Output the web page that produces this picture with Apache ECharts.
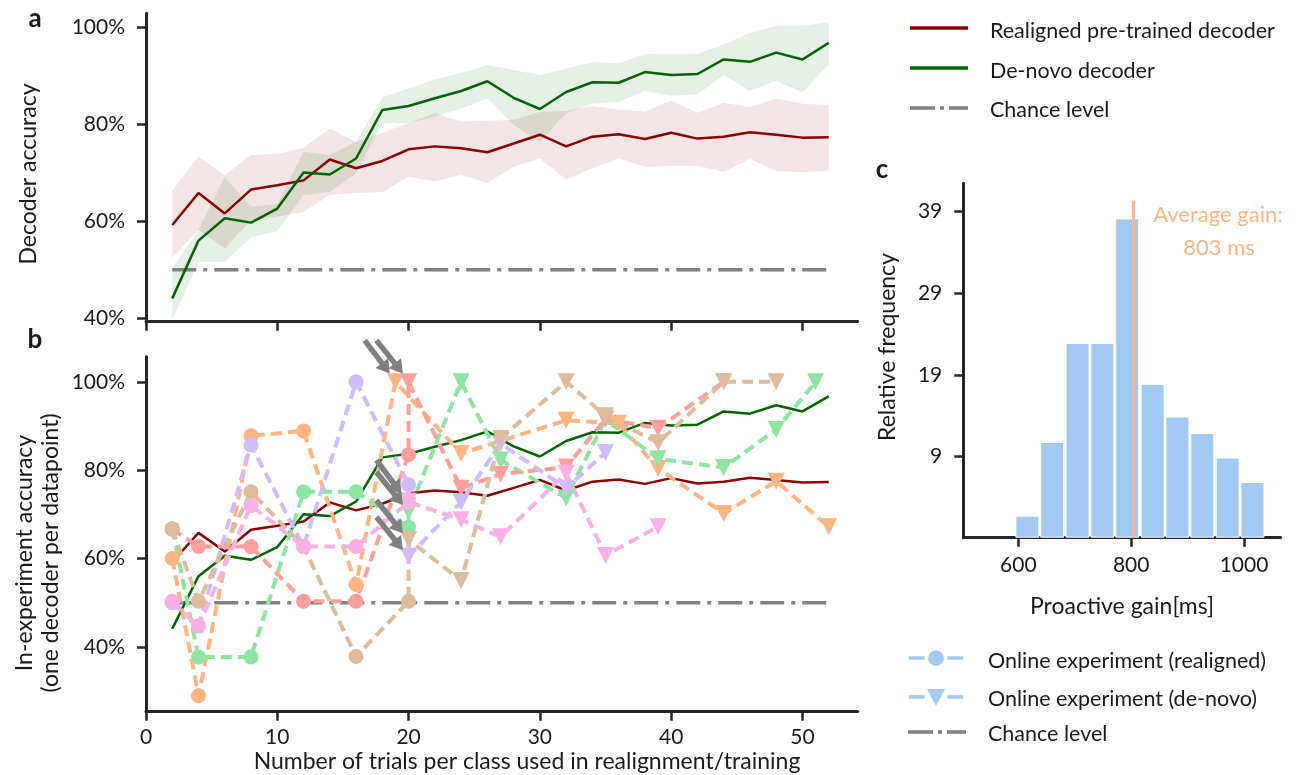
<!DOCTYPE html>
<html>
<head>
<meta charset="utf-8">
<title>Decoder accuracy vs. trials</title>
<script src="https://cdn.jsdelivr.net/npm/echarts@6/dist/echarts.min.js"></script>
<style>
html, body { margin: 0; padding: 0; background: #fff; }
#chart { width: 1296px; height: 775px; }
</style>
</head>
<body>
<div id="chart"></div>
<script>
// number of trials per class (x of the averaged curves)
const trials = [2, 4, 6, 8, 10, 12, 14, 16, 18, 20, 22, 24, 26, 28, 30, 32, 34, 36, 38, 40, 42, 44, 46, 48, 50, 52];

// realigned pre-trained decoder: mean and shaded band (%)
const realignedMean  = [59.2, 65.8, 61.6, 66.5, 67.4, 68.4, 72.7, 70.9, 72.4, 74.8, 75.4, 75.0, 74.2, 76.0, 77.8, 75.4, 77.4, 77.9, 76.9, 78.2, 77.0, 77.4, 78.3, 77.8, 77.2, 77.3];
const realignedUpper = [66.3, 73.3, 69.5, 73.6, 73.9, 75.1, 79.1, 76.3, 78.2, 80.2, 82.2, 80.5, 80.7, 80.9, 82.5, 82.7, 83.7, 83.0, 82.6, 84.8, 82.3, 84.4, 83.5, 85.2, 84.2, 83.9];
const realignedLower = [52.5, 58.2, 54.4, 60.2, 60.9, 61.9, 65.4, 65.8, 66.0, 69.1, 68.2, 69.5, 67.9, 71.2, 72.9, 68.6, 70.9, 72.9, 71.2, 71.4, 71.4, 70.2, 72.8, 70.4, 70.0, 70.5];

// de-novo decoder: mean and shaded band (%)
const denovoMean  = [44.1, 56.0, 60.6, 59.7, 62.6, 70.0, 69.6, 72.9, 82.9, 83.7, 85.3, 86.8, 88.8, 85.4, 83.1, 86.6, 88.6, 88.5, 90.7, 90.1, 90.3, 93.3, 92.8, 94.7, 93.3, 96.7];
const denovoUpper = [50.3, 58.2, 69.1, 63.0, 63.5, 74.3, 73.6, 76.3, 85.5, 87.3, 89.2, 90.5, 92.1, 91.1, 90.1, 91.4, 92.7, 92.5, 94.4, 94.4, 94.4, 96.4, 98.8, 100.2, 100.3, 100.9];
const denovoLower = [39.6, 51.6, 51.6, 56.7, 58.0, 65.4, 66.0, 69.8, 80.2, 80.2, 81.5, 83.2, 85.3, 79.8, 76.3, 82.2, 84.2, 84.6, 86.8, 85.8, 86.1, 90.1, 86.8, 88.9, 86.5, 92.3];

const chanceLevel = [[2, 50], [52, 50]];

// online experiments: [trials, accuracy %], realigned (circles) then de-novo (triangles)
const orangeRealigned = [[2, 60], [4, 28.9], [8, 87.8], [12, 88.9], [16, 54.1]];
const orangeDenovo    = [[19, 100], [24, 83.8], [32, 91.3], [36, 90.6], [39, 80.4], [44, 70.2], [48, 77.5], [52, 67.2]];
const greenRealigned  = [[2, 66.7], [4, 37.7], [8, 37.7], [12, 75.1], [16, 75.1], [20, 67.1]];
const greenDenovo     = [[20, 70.7], [24, 100], [27, 82.3], [32, 73.7], [35, 91.5], [39, 82.6], [44, 80.6], [48, 89.2], [51, 100]];
const redRealigned    = [[2, 66.7], [4, 62.7], [8, 62.7], [12, 50.3], [16, 50.3], [20, 83.5]];
const redDenovo       = [[20, 100], [24, 75.9], [27, 79.1], [32, 80.7], [35, 91.6], [39, 89.5], [44, 100]];
const purpleRealigned = [[2, 50], [4, 44.7], [8, 85.7], [12, 62.7], [16, 100], [20, 76.7]];
const purpleDenovo    = [[20, 60.5], [24, 72.8], [27, 86.0], [32, 75.9], [35, 84.0]];
const brownRealigned  = [[2, 66.7], [4, 50.3], [8, 75.1], [12, 62.7], [16, 37.8], [20, 50.3]];
const brownDenovo     = [[20, 64.3], [24, 55.0], [27, 87.2], [32, 100], [35, 92.3], [39, 86.2], [44, 100], [48, 100]];
const pinkRealigned   = [[2, 50.3], [4, 44.7], [8, 72.0], [12, 62.7], [16, 62.7], [20, 72.8]];
const pinkDenovo      = [[20, 73.0], [24, 68.8], [27, 64.9], [32, 79.3], [35, 60.7], [39, 67.2]];

// arrows marking the switch to de-novo decoding, [from, to] in panel b coordinates
const arrowTails = [[16.66, 109.4], [17.55, 109.4], [17.55, 82.3], [17.55, 79.6], [17.55, 73.2], [17.55, 69.4]];
const arrowTips  = [[18.56, 101.9], [19.57, 101.9], [19.45, 74.7], [19.57, 72.1], [19.57, 65.7], [19.57, 61.9]];

// panel c histogram
const gainBins = [616, 660, 705, 749, 793, 838, 882, 926, 971, 1015];
const gainFreq = [2.7, 11.7, 23.8, 23.8, 39.0, 18.8, 14.8, 12.8, 9.8, 6.8];
const averageGain = 803;

// tick values / labels
const trialTicks = [0, 10, 20, 30, 40, 50];
const accTicks = [40, 60, 80, 100];
const gainTicks = [600, 800, 1000];
const freqTickValues = [9.9, 19.9, 29.9, 39.9];
const freqTickLabels = ['9', '19', '29', '39'];

const FONT = 'Lato, "Open Sans", sans-serif';
const INK = '#1a1a1a';
const AXIS = '#262626';
const GRAY = '#808080';
const DASHDOT = [24, 7, 4, 7];
const DARKRED = '#8b0000';
const DARKGREEN = '#006400';
const PASTEL_BLUE = '#a1c9f4';
const PASTEL_ORANGE = '#ffb482';

const zip = (xs, ys) => xs.map((x, i) => [x, ys[i]]);

function axis(gridIndex, min, max, ticks, opts) {
    opts = opts || {};
    return {
        type: 'value',
        gridIndex: gridIndex,
        min: min,
        max: max,
        axisLine: { show: true, onZero: false, lineStyle: { color: AXIS, width: 3 } },
        axisTick: { show: true, length: 9, customValues: ticks, lineStyle: { color: AXIS, width: 2.5 } },
        axisLabel: {
            show: opts.labels !== false,
            customValues: ticks,
            formatter: opts.formatter || (v => String(v)),
            margin: opts.margin || 18,
            color: INK,
            fontFamily: FONT,
            fontSize: 21
        },
        splitLine: { show: false }
    };
}

function plainLine(idx, data, color, width, type) {
    return {
        type: 'line',
        xAxisIndex: idx,
        yAxisIndex: idx,
        data: data,
        symbol: 'none',
        silent: true,
        lineStyle: { color: color, width: width, type: type || 'solid' }
    };
}

// shaded band between lower and upper, drawn as one polygon through the axes
function band(lower, upper, fill) {
    return {
        type: 'custom',
        xAxisIndex: 0,
        yAxisIndex: 0,
        silent: true,
        data: trials.map((t, i) => [t, lower[i], upper[i]]),
        encode: { x: 0, y: [1, 2] },
        renderItem: function (params, api) {
            if (params.dataIndex !== 0) return null;
            const top = trials.map((t, i) => api.coord([t, upper[i]]));
            const bottom = trials.map((t, i) => api.coord([t, lower[i]])).reverse();
            return {
                type: 'polygon',
                shape: { points: top.concat(bottom) },
                style: { fill: fill }
            };
        }
    };
}

function experiment(color, realigned, denovo) {
    const pts = realigned.map(p => ({ value: p, symbol: 'circle', symbolSize: 15 }))
        .concat(denovo.map(p => ({ value: p, symbol: 'triangle', symbolRotate: 180, symbolSize: 17 })));
    return {
        type: 'line',
        xAxisIndex: 1,
        yAxisIndex: 1,
        data: pts,
        silent: true,
        showSymbol: true,
        lineStyle: { color: color, width: 4, type: [11, 6] },
        itemStyle: { color: color }
    };
}

function text(x, y, str, opts) {
    opts = opts || {};
    return {
        type: 'text',
        x: x,
        y: y,
        rotation: opts.rotation || 0,
        silent: true,
        style: {
            text: str,
            fill: opts.color || INK,
            fontFamily: FONT,
            fontSize: opts.size || 23,
            fontWeight: opts.weight || 'normal',
            align: opts.align || 'center',
            verticalAlign: 'middle'
        }
    };
}

function legendLine(x1, x2, y, color, dash, width) {
    return {
        type: 'line', silent: true,
        shape: { x1: x1, y1: y, x2: x2, y2: y },
        style: { stroke: color, lineWidth: width || 3.5, lineDash: dash || null }
    };
}

const graphics = [
    text(35, 19, 'a', { weight: 'bold', size: 26 }),
    text(35, 340, 'b', { weight: 'bold', size: 26 }),
    text(882, 170, 'c', { weight: 'bold', size: 26 }),
    text(29, 174, 'Decoder accuracy', { rotation: Math.PI / 2 }),
    text(25, 553, 'In-experiment accuracy', { rotation: Math.PI / 2 }),
    text(51, 553, '(one decoder per datapoint)', { rotation: Math.PI / 2 }),
    text(527, 762, 'Number of trials per class used in realignment/training'),
    text(888, 347, 'Relative frequency', { rotation: Math.PI / 2 }),
    text(1122, 607, 'Proactive gain[ms]'),
    text(1218, 215, 'Average gain:', { color: PASTEL_ORANGE, size: 22 }),
    text(1219, 248, averageGain + ' ms', { color: PASTEL_ORANGE, size: 22 }),

    // top legend
    legendLine(910, 968, 28, DARKRED),
    text(990, 31, 'Realigned pre-trained decoder', { align: 'left', size: 21.5 }),
    legendLine(910, 968, 68, DARKGREEN),
    text(990, 71, 'De-novo decoder', { align: 'left', size: 21.5 }),
    legendLine(910, 968, 108, GRAY, [25, 5, 4, 5]),
    text(990, 110, 'Chance level', { align: 'left', size: 21.5 }),

    // bottom legend
    legendLine(909, 963, 658, PASTEL_BLUE, [15.5, 23]),
    { type: 'circle', silent: true, shape: { cx: 936, cy: 658, r: 7.8 }, style: { fill: PASTEL_BLUE } },
    text(988, 661, 'Online experiment (realigned)', { align: 'left', size: 21.5 }),
    legendLine(909, 963, 697, PASTEL_BLUE, [15.5, 23]),
    { type: 'polygon', silent: true, shape: { points: [[927, 689], [945, 689], [936, 706]] }, style: { fill: PASTEL_BLUE } },
    text(988, 699, 'Online experiment (de-novo)', { align: 'left', size: 21.5 }),
    legendLine(908, 966, 732, GRAY, [25, 5, 4, 5]),
    text(988, 734, 'Chance level', { align: 'left', size: 21.5 })
];

const chart = echarts.init(document.getElementById('chart'));

const option = {
    animation: false,
    backgroundColor: '#fff',
    grid: [
        { left: 146, top: 13.3, width: 711.6, height: 308.4 },
        { left: 146, top: 356.7, width: 711.6, height: 355 },
        { left: 963.3, top: 183.3, width: 317.4, height: 354.4 }
    ],
    xAxis: [
        axis(0, 0, 54.2, trialTicks, { labels: false }),
        axis(1, 0, 54.2, trialTicks, { margin: 15 }),
        axis(2, 502.5, 1065, gainTicks, { margin: 17 })
    ],
    yAxis: [
        axis(0, 39.3, 102.8, accTicks, { formatter: v => v + '%', margin: 21 }),
        axis(1, 25.3, 105.7, accTicks, { formatter: v => v + '%', margin: 21 }),
        axis(2, 0, 43.3, freqTickValues, {
            formatter: v => freqTickLabels[freqTickValues.indexOf(v)],
            margin: 21
        })
    ],
    series: [
        // panel a
        band(realignedLower, realignedUpper, 'rgba(139, 0, 0, 0.1)'),
        band(denovoLower, denovoUpper, 'rgba(0, 100, 0, 0.1)'),
        plainLine(0, chanceLevel, GRAY, 3.5, DASHDOT),
        plainLine(0, zip(trials, realignedMean), DARKRED, 2.5),
        plainLine(0, zip(trials, denovoMean), DARKGREEN, 2.5),

        // panel b
        plainLine(1, chanceLevel, GRAY, 3.5, DASHDOT),
        plainLine(1, zip(trials, realignedMean), DARKRED, 2.5),
        plainLine(1, zip(trials, denovoMean), DARKGREEN, 2.5),
        experiment('#ffb482', orangeRealigned, orangeDenovo),
        experiment('#8de5a1', greenRealigned, greenDenovo),
        experiment('#ff9f9b', redRealigned, redDenovo),
        experiment('#d0bbff', purpleRealigned, purpleDenovo),
        experiment('#debb9b', brownRealigned, brownDenovo),
        experiment('#fab0e4', pinkRealigned, pinkDenovo),

        // panel c
        {
            type: 'bar',
            xAxisIndex: 2,
            yAxisIndex: 2,
            data: zip(gainBins, gainFreq),
            barWidth: 24,
            silent: true,
            itemStyle: { color: PASTEL_BLUE, borderColor: '#fff', borderWidth: 1 },
            markLine: {
                silent: true,
                symbol: 'none',
                label: { show: false },
                lineStyle: { color: PASTEL_ORANGE, width: 3, type: 'solid' },
                data: [[{ coord: [averageGain, 0] }, { coord: [averageGain, 41.2] }]]
            }
        }
    ],
    graphic: graphics
};

chart.setOption(option);

// arrows, placed through panel b's scales
const arrowShapes = [];
arrowTails.forEach((tail, i) => {
    const p0 = chart.convertToPixel({ gridIndex: 1 }, tail);
    const p1 = chart.convertToPixel({ gridIndex: 1 }, arrowTips[i]);
    const dx = p1[0] - p0[0], dy = p1[1] - p0[1];
    const len = Math.sqrt(dx * dx + dy * dy);
    const ux = dx / len, uy = dy / len;
    const nx = -uy, ny = ux;
    const headLen = 13, headHalf = 8;
    const bx = p1[0] - ux * headLen, by = p1[1] - uy * headLen;
    arrowShapes.push({
        type: 'line', silent: true, z: 50,
        shape: { x1: p0[0], y1: p0[1], x2: bx + ux * 2, y2: by + uy * 2 },
        style: { stroke: GRAY, lineWidth: 5.5 }
    });
    arrowShapes.push({
        type: 'polygon', silent: true, z: 50,
        shape: { points: [[p1[0], p1[1]], [bx + nx * headHalf, by + ny * headHalf], [bx - nx * headHalf, by - ny * headHalf]] },
        style: { fill: GRAY }
    });
});

chart.setOption({ graphic: graphics.concat(arrowShapes) });
</script>
</body>
</html>
